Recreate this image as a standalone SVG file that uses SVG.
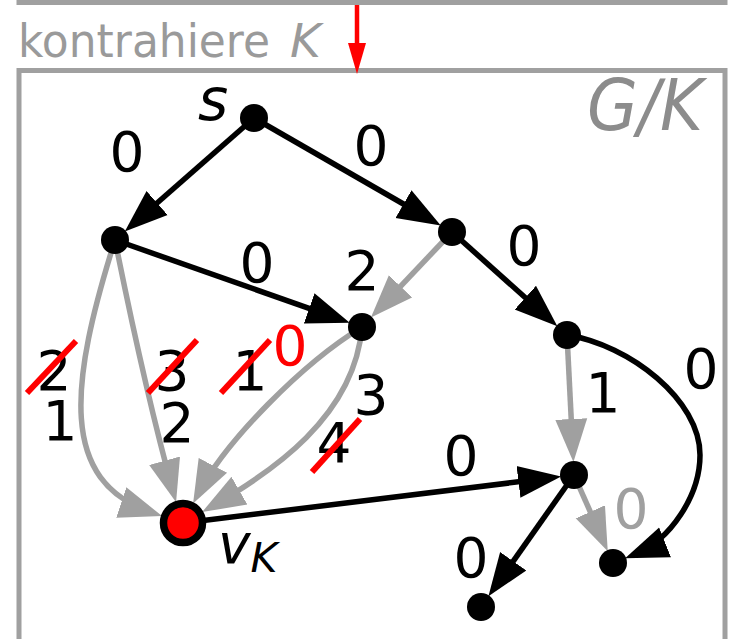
<svg xmlns="http://www.w3.org/2000/svg" width="732" height="639" viewBox="0 0 732 639">
<style>
  .b{fill:none;stroke:#000;stroke-width:5.5}
  .g{fill:none;stroke:#a0a0a0;stroke-width:5.5}
  .box{fill:none;stroke:#a0a0a0;stroke-width:5}
  .n{fill:#000}
  .t{font-family:"DejaVu Sans",sans-serif;font-size:55px;text-anchor:middle;fill:#000}
  .gt{fill:#a0a0a0}
  .rt{fill:#ff0000}
  .st{stroke:#ff0000;stroke-width:6;stroke-linecap:butt}
  .cap{font-family:"DejaVu Sans",sans-serif;fill:#9a9a9a}
  .it{font-style:italic}
</style>
<defs>
  <marker id="ab" markerUnits="userSpaceOnUse" markerWidth="44" markerHeight="34" viewBox="0 -17 44 34" refX="33" refY="0" orient="auto">
    <path d="M0,-16 L43,0 L0,16 Z" fill="#000"/>
  </marker>
  <marker id="ag" markerUnits="userSpaceOnUse" markerWidth="44" markerHeight="34" viewBox="0 -17 44 34" refX="33" refY="0" orient="auto">
    <path d="M0,-16 L43,0 L0,16 Z" fill="#a0a0a0"/>
  </marker>
</defs>

<!-- frames -->
<rect class="box" x="19" y="-100" width="706" height="102.5"/>
<rect class="box" x="19" y="70.5" width="706" height="620"/>
<text class="cap" x="18" y="57" font-size="47" textLength="252" lengthAdjust="spacingAndGlyphs">kontrahiere</text>
<text class="cap it" x="290" y="57" font-size="47">K</text>
<text x="587" y="130" font-family="DejaVu Sans, sans-serif" font-size="71" font-style="italic" fill="#8c8c8c" textLength="116" lengthAdjust="spacingAndGlyphs">G/K</text>

<g id="connectors">
  <!-- red contraction arrow -->
  <line x1="357" y1="5" x2="357" y2="50" stroke="#ff0000" stroke-width="4.5"/>
  <polygon points="348,43 366,43 357,74" fill="#ff0000"/>

  <!-- gray edges -->
  <path class="g" marker-end="url(#ag)" d="M452,232 L377.8,310.3"/>
  <path class="g" marker-end="url(#ag)" d="M567,335 L572.9,452"/>
  <path class="g" marker-end="url(#ag)" d="M574,475 L603.7,542"/>
  <path class="g" marker-end="url(#ag)" d="M115,240 C70,383 57.7,481.3 152.6,512.9"/>
  <path class="g" marker-end="url(#ag)" d="M115,240 Q145,390 173.4,492.5"/>
  <path class="g" marker-end="url(#ag)" d="M362,327 C302.3,363.5 225.3,441.3 197.7,494.6"/>
  <path class="g" marker-end="url(#ag)" d="M362,327 C354.4,416.6 271.6,472.3 210.8,507.1"/>

  <!-- black edges -->
  <path class="b" marker-end="url(#ab)" d="M254,118 L132.3,224.8"/>
  <path class="b" marker-end="url(#ab)" d="M254,118 L432.1,220.5"/>
  <path class="b" marker-end="url(#ab)" d="M115,240 L340.3,319.4"/>
  <path class="b" marker-end="url(#ab)" d="M452,232 L549.9,319.7"/>
  <path class="b" marker-end="url(#ab)" d="M567,335 C630,345 700,400 700,455 C700,495 671,540 634.4,554.6"/>
  <path class="b" marker-end="url(#ab)" d="M183,523 L551.2,477.8"/>
  <path class="b" marker-end="url(#ab)" d="M574,475 L494.2,588.2"/>
</g>

<g id="edge-labels">
  <text class="t" x="127" y="171">0</text>
  <text class="t" x="371" y="165">0</text>
  <text class="t" x="257" y="282">0</text>
  <text class="t" x="362" y="290">2</text>
  <text class="t" x="524" y="265">0</text>
  <text class="t" x="701" y="388">0</text>
  <text class="t" x="603" y="412">1</text>
  <text class="t" x="461" y="475">0</text>
  <text class="t gt" x="631" y="528">0</text>
  <text class="t" x="471" y="577">0</text>

  <text class="t" x="54" y="390">2</text>
  <line class="st" x1="27" y1="393" x2="76" y2="341"/>
  <text class="t" x="60" y="440">1</text>

  <text class="t" x="172" y="390">3</text>
  <line class="st" x1="148" y1="393" x2="197" y2="340"/>
  <text class="t" x="177" y="442">2</text>

  <text class="t" x="250" y="390">1</text>
  <line class="st" x1="221" y1="393" x2="270" y2="340"/>
  <text class="t rt" x="290" y="365">0</text>

  <text class="t" x="371" y="414">3</text>
  <text class="t" x="334" y="462">4</text>
  <line class="st" x1="312" y1="472" x2="360" y2="419"/>
</g>

<g id="node-s">
  <circle class="n" cx="254" cy="118" r="14"/>
  <text x="198" y="120" font-family="DejaVu Sans, sans-serif" font-size="58" font-style="italic">s</text>
</g>
<g id="node-a"><circle class="n" cx="115" cy="240" r="14"/></g>
<g id="node-b"><circle class="n" cx="452" cy="232" r="14"/></g>
<g id="node-c"><circle class="n" cx="362" cy="327" r="14"/></g>
<g id="node-d"><circle class="n" cx="567" cy="335" r="14"/></g>
<g id="node-e"><circle class="n" cx="574" cy="475" r="14"/></g>
<g id="node-f"><circle class="n" cx="613" cy="563" r="14"/></g>
<g id="node-g"><circle class="n" cx="481" cy="607" r="14"/></g>
<g id="node-vk">
  <circle cx="183" cy="523" r="19.5" fill="#ff0000" stroke="#000" stroke-width="7.5"/>
  <text x="218" y="563" font-family="DejaVu Sans, sans-serif" font-size="55" font-style="italic">v<tspan font-size="41" dy="9">K</tspan></text>
</g>
</svg>
